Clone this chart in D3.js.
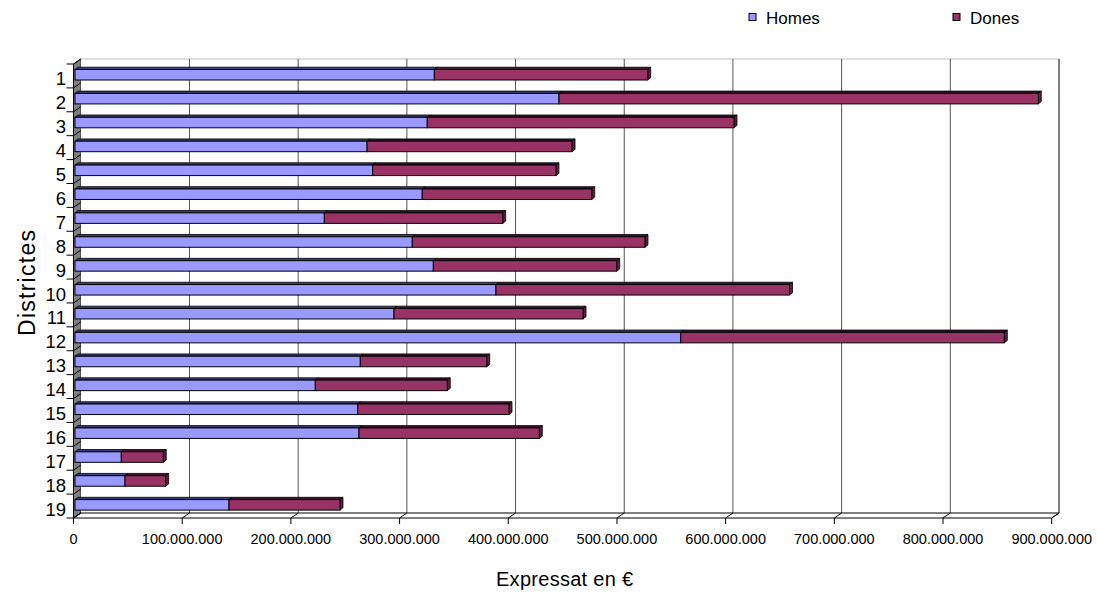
<!DOCTYPE html>
<html><head><meta charset="utf-8">
<script src="https://cdn.jsdelivr.net/npm/d3@7"></script>
<style>body{margin:0;background:#fff}svg{display:block;font-family:"Liberation Sans",Arial,sans-serif}</style>
</head><body><svg id="c" width="1098" height="595"></svg>
<script>
const categories = ["1","2","3","4","5","6","7","8","9","10","11","12","13","14","15","16","17","18","19"];
const seriesNames = ["Homes","Dones"];
const homes = [330.6,445.3,324.1,268.7,273.9,319.5,229.4,310.3,329.7,387.3,293.5,557.3,262.5,221.1,260.1,261.3,42.6,46.0,141.7].map(v=>v*1e6);
const dones = [196.3,441.0,282.2,188.6,168.6,155.9,164.1,214.1,168.7,270.1,173.9,297.7,116.3,121.4,139.2,165.9,38.6,37.4,102.1].map(v=>v*1e6);
const xTicks = [0,100e6,200e6,300e6,400e6,500e6,600e6,700e6,800e6,900e6];
const colors = {Homes:{front:"#9999FF",top:"#3d3d7a",side:"#5c5c99"}, Dones:{front:"#993366",top:"#3d1428",side:"#5c1f3d"}};

const svg = d3.select("#c");
const x = d3.scaleLinear().domain([0,900e6]).range([73.5,1051.7]);
const y = d3.scaleBand().domain(categories).range([64,518]).paddingInner(0).paddingOuter(0);
const DX = 7.3, DY = -5;   // depth of the 3D box
const yTop = 64, yBot = 518;
const fmt = v => v===0 ? "0" : d3.format(",")(v).replace(/,/g,".");

// side wall (grey)
svg.append("path")
  .attr("d",`M${x(0)},${yTop} L${x(0)+DX},${yTop+DY} L${x(0)+DX},${yBot+DY} L${x(0)},${yBot} Z`)
  .attr("fill","#808080").attr("stroke","#000").attr("stroke-width",1);
// back wall
svg.append("rect").attr("x",x(0)+DX).attr("y",yTop+DY).attr("width",x(900e6)-x(0)).attr("height",yBot-yTop)
  .attr("fill","#fff").attr("stroke","none");
svg.append("line").attr("x1",x(0)+DX).attr("x2",x(900e6)+DX).attr("y1",yTop+DY).attr("y2",yTop+DY).attr("stroke","#c0c0c0");
// gridlines on back wall
svg.append("g").selectAll("line").data(xTicks.slice(1)).join("line")
  .attr("x1",d=>x(d)+DX).attr("x2",d=>x(d)+DX).attr("y1",yTop+DY).attr("y2",yBot+DY)
  .attr("stroke",d=>d===900e6?"#000":"#555").attr("stroke-width",1);
// floor
svg.append("path")
  .attr("d",`M${x(0)},${yBot} L${x(0)+DX},${yBot+DY} L${x(900e6)+DX},${yBot+DY} L${x(900e6)},${yBot} Z`)
  .attr("fill","#fff").attr("stroke","#000").attr("stroke-width",1);
// floor tick diagonals and ticks
const xt = svg.append("g");
xt.selectAll("path").data(xTicks).join("path")
  .attr("d",d=>`M${x(d)+DX},${yBot+DY} L${x(d)},${yBot} L${x(d)},${yBot+6}`)
  .attr("fill","none").attr("stroke","#000");
xt.selectAll("text").data(xTicks).join("text")
  .attr("x",d=>x(d)).attr("y",yBot+26).attr("text-anchor","middle")
  .attr("font-size",14.5).attr("fill","#000").text(fmt);
// y axis ticks
const yb = categories.map(c=>y(c)).concat([yBot]);
svg.append("g").selectAll("path").data(yb).join("path")
  .attr("d",d=>`M${x(0)-7},${d} L${x(0)},${d} L${x(0)+DX},${d+DY}`)
  .attr("fill","none").attr("stroke","#000");
svg.append("line").attr("x1",x(0)).attr("x2",x(0)).attr("y1",yTop).attr("y2",yBot).attr("stroke","#000");
svg.append("g").selectAll("text").data(categories).join("text")
  .attr("x",66).attr("y",c=>y(c)+y.bandwidth()/2+9.5).attr("text-anchor","end")
  .attr("font-size",18.5).attr("fill","#000").text(c=>c);

// bars
const bdx = 3, bdy = -2.3, off = 1.5;
const bars = svg.append("g");
categories.forEach((c,i)=>{
  const segs = [{name:"Homes",x0:0,x1:homes[i]},{name:"Dones",x0:homes[i],x1:homes[i]+dones[i]}];
  const by = y(c)+y.bandwidth()*0.23, bh = y.bandwidth()*0.44;
  segs.forEach((s,k)=>{
    const a = x(s.x0)+off, b = x(s.x1)+off, col = colors[s.name];
    bars.append("path").attr("d",`M${a},${by} L${a+bdx},${by+bdy} L${b+bdx},${by+bdy} L${b},${by} Z`)
      .attr("fill",col.top).attr("stroke","#000").attr("stroke-width",0.8);
    if(k===segs.length-1)
      bars.append("path").attr("d",`M${b},${by} L${b+bdx},${by+bdy} L${b+bdx},${by+bh+bdy} L${b},${by+bh} Z`)
        .attr("fill",col.side).attr("stroke","#000").attr("stroke-width",0.8);
    bars.append("rect").attr("x",a).attr("y",by).attr("width",b-a).attr("height",bh)
      .attr("fill",col.front).attr("stroke","#000").attr("stroke-width",1);
  });
});

// legend
const lg = svg.append("g");
const legX = [749, 953];
seriesNames.forEach((n,i)=>{
  lg.append("rect").attr("x",legX[i]).attr("y",13.5).attr("width",7).attr("height",7)
    .attr("fill",colors[n].front).attr("stroke","#000");
  lg.append("text").attr("x",legX[i]+17).attr("y",23.5).attr("font-size",17).attr("fill","#000").text(n);
});

// axis titles
svg.append("text").attr("x",564.5).attr("y",586).attr("text-anchor","middle").attr("font-size",20)
  .attr("textLength",137).attr("lengthAdjust","spacing").text("Expressat en €");
svg.append("text").attr("transform","translate(35,283) rotate(-90)").attr("text-anchor","middle").attr("font-size",23)
  .attr("textLength",106).attr("lengthAdjust","spacing").text("Districtes");
</script></body></html>
